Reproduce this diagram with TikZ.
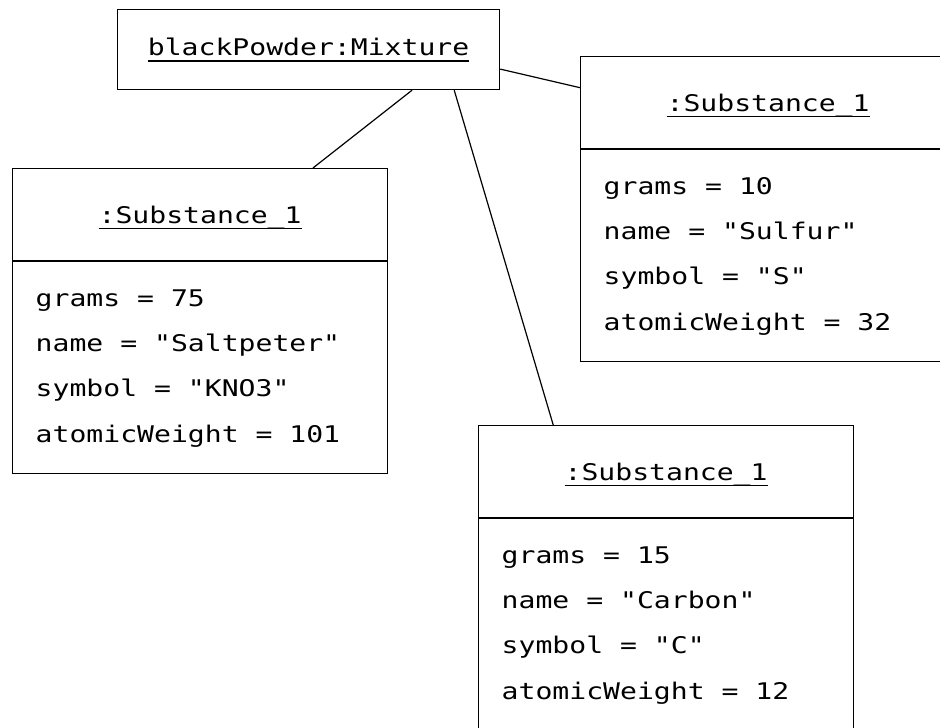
\documentclass[tikz,border=0pt]{standalone}
\usepackage{fontspec}
\usetikzlibrary{positioning,calc}
\newfontfamily\umlfont[FakeStretch=1.225]{DejaVu Sans Mono}
\newfontfamily\attrmono{DejaVu Sans Mono}
% object names are underlined
\newcommand\objname[1]{\setbox0\hbox{#1}\rlap{\copy0}\rule[-4.5pt]{\wd0}{0.9pt}}
% one attribute line, spaces one letter wide
\newcommand\attr[2]{#1\hspace{0.602em}=\hspace{0.602em}#2}

\begin{document}
\begin{tikzpicture}[x=0.75pt,y=-0.75pt,line width=0.9pt,
    obj/.style={draw,rectangle,inner sep=0pt,minimum width=281.25pt,anchor=north west,
      font=\umlfont\fontsize{17.2}{20}\selectfont},
    head/.style={obj,minimum height=69pt,text height=12.75pt,text depth=0pt},
    body/.style={obj,minimum height=159pt},
    % attribute lists, widened like the stretched font
    attrs/.style={anchor=base west,text width=200pt,align=left,inner sep=0pt,
      xshift=17.25pt,yshift=-33.75pt,xscale=1.225,transform shape,
      font=\attrmono\fontsize{17.2}{34}\selectfont}]
  \useasboundingbox (0,0) rectangle (940,728);
  \clip (0,0) rectangle (940,728);
  % the mixture
  \node[obj,minimum width=286.5pt,minimum height=60pt,text height=9pt,text depth=0pt]
    (mix) at (117,9) {\objname{blackPowder:Mixture}};
  % saltpeter
  \node[head] (salthead) at (12,168) {\objname{:Substance\_1}};
  \node[body,below=0pt of salthead] (saltbody) {};
  \node[attrs] (saltattr) at (saltbody.north west)
    {\attr{grams}{75}\\\attr{name}{"Saltpeter"}\\\attr{symbol}{"KNO3"}\\\attr{atomicWeight}{101}};
  % sulfur, runs off the right edge
  \node[head] (sulfhead) at (580,56) {\objname{:Substance\_1}};
  \node[body,below=0pt of sulfhead] (sulfbody) {};
  \node[attrs] (sulfattr) at (sulfbody.north west)
    {\attr{grams}{10}\\\attr{name}{"Sulfur"}\\\attr{symbol}{"S"}\\\attr{atomicWeight}{32}};
  % carbon, runs off the bottom edge
  \node[head] (carbhead) at (478,425) {\objname{:Substance\_1}};
  \node[body,below=0pt of carbhead] (carbbody) {};
  \node[attrs] (carbattr) at (carbbody.north west)
    {\attr{grams}{15}\\\attr{name}{"Carbon"}\\\attr{symbol}{"C"}\\\attr{atomicWeight}{12}};
  % links
  \draw ($(mix.south west)!0.77!(mix.south east)$) -- ($(salthead.north west)!0.8!(salthead.north east)$);
  \draw ($(mix.south west)!0.88!(mix.south east)$) -- ($(carbhead.north west)!0.2!(carbhead.north east)$);
  \draw ($(mix.north east)!0.74!(mix.south east)$) -- ($(sulfhead.north west)!0.34!(sulfhead.south west)$);
\end{tikzpicture}
\end{document}
